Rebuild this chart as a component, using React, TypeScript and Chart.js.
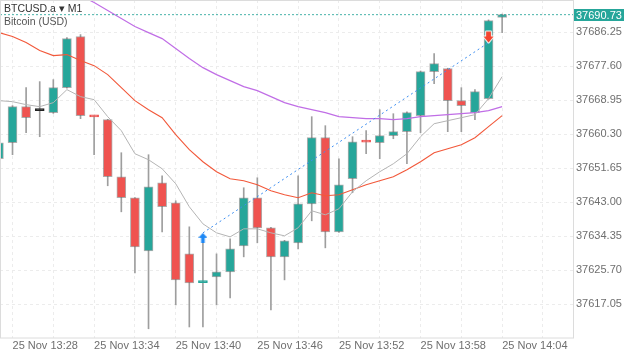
import React, { useEffect, useRef } from "react";
import { Chart, registerables } from "chart.js";

Chart.register(...registerables);

// ---- data ----
const times = [
  "13:27", "13:28", "13:29", "13:30", "13:31", "13:32", "13:33", "13:34", "13:35", "13:36",
  "13:37", "13:38", "13:39", "13:40", "13:41", "13:42", "13:43", "13:44", "13:45", "13:46",
  "13:47", "13:48", "13:49", "13:50", "13:51", "13:52", "13:53", "13:54", "13:55", "13:56",
  "13:57", "13:58", "13:59", "14:00", "14:01", "14:02", "14:03", "14:04",
];
const opens = [
  37654.07, 37658.14, 37667.32, 37666.3, 37665.79, 37672.16, 37685.15, 37664.85, 37664.0, 37649.48,
  37644.13, 37630.63, 37647.95, 37642.86, 37629.86, 37622.55, 37624.0, 37625.28, 37631.9, 37644.13,
  37636.49, 37629.1, 37632.67, 37642.6, 37659.42, 37635.47, 37648.97, 37658.5, 37658.14, 37659.93,
  37660.95, 37665.02, 37676.23, 37677.0, 37668.85, 37665.79, 37669.36, 37690.0,
];
const highs = [
  37659.0, 37667.6, 37672.16, 37673.69, 37674.2, 37684.9, 37685.66, 37665.0, 37664.1, 37655.6,
  37644.2, 37655.09, 37649.74, 37643.37, 37636.74, 37632.67, 37629.86, 37633.68, 37646.68, 37649.23,
  37636.6, 37633.3, 37649.74, 37664.77, 37662.48, 37654.07, 37659.67, 37661.2, 37666.55, 37665.53,
  37666.0, 37676.4, 37680.82, 37677.1, 37672.16, 37671.65, 37689.4, 37690.9,
];
const lows = [
  37652.5, 37655.09, 37660.69, 37659.67, 37665.6, 37672.0, 37664.26, 37655.09, 37647.19, 37640.56,
  37625.02, 37610.8, 37635.47, 37616.87, 37611.26, 37611.26, 37616.87, 37618.65, 37629.1, 37632.67,
  37615.59, 37623.24, 37631.14, 37638.27, 37631.39, 37635.3, 37645.41, 37655.34, 37654.07, 37659.16,
  37652.79, 37660.69, 37673.18, 37660.95, 37660.95, 37664.0, 37669.2, 37686.17,
];
const closes = [
  37658.14, 37667.32, 37664.51, 37666.3, 37672.16, 37684.64, 37665.02, 37664.7, 37649.48, 37644.13,
  37631.65, 37646.93, 37641.84, 37623.24, 37622.47, 37622.75, 37625.28, 37631.14, 37644.13, 37636.49,
  37629.1, 37633.17, 37642.6, 37659.42, 37635.47, 37647.44, 37658.4, 37658.3, 37659.93, 37660.95,
  37665.79, 37676.23, 37678.27, 37668.85, 37667.57, 37671.14, 37689.23, 37690.73,
];
// moving averages
const maFast = [
  37668.85, 37668.59, 37667.83, 37667.32, 37668.34, 37671.65, 37669.87, 37669.1, 37664.77, 37661.2,
  37655.34, 37653.81, 37651.52, 37647.7, 37641.84, 37637.5, 37635.21, 37634.19, 37636.23, 37636.23,
  37635.21, 37634.45, 37636.49, 37640.82, 37639.8, 37641.33, 37645.66, 37648.46, 37650.75, 37652.79,
  37655.34, 37659.67, 37662.98, 37663.75, 37664.51, 37665.28, 37669.36, 37674.96,
];
const maMid = [
  37686.17, 37685.15, 37683.62, 37681.59, 37680.31, 37680.57, 37679.04, 37677.76, 37675.47, 37672.16,
  37668.85, 37666.55, 37664.51, 37660.18, 37656.36, 37653.3, 37650.76, 37648.97, 37648.46, 37647.44,
  37645.91, 37644.89, 37644.13, 37645.4, 37644.64, 37644.89, 37646.17, 37647.44, 37648.46, 37649.48,
  37651.26, 37653.3, 37655.6, 37656.62, 37657.64, 37659.42, 37662.22, 37665.02,
];
const maSlow = [
  37706.3, 37704.5, 37702.7, 37700.9, 37699.2, 37697.4, 37695.6, 37693.82, 37691.78, 37689.74,
  37687.7, 37686.17, 37684.64, 37682.1, 37679.55, 37677.25, 37675.47, 37673.94, 37672.41, 37671.4,
  37669.87, 37668.34, 37667.32, 37666.55, 37665.79, 37664.77, 37664.51, 37664.26, 37664.26, 37664.0,
  37664.26, 37664.77, 37665.02, 37665.28, 37665.53, 37665.79, 37666.3, 37667.32,
];
const yTicks = [37617.05, 37625.7, 37634.35, 37643.0, 37651.65, 37660.3, 37668.95, 37677.6, 37686.25];
const xTickPositions = [1, 4, 7, 10, 13, 16, 19, 22, 25, 28, 31, 34, 37, 40];
const xTickLabels = [
  "25 Nov 13:28", "", "25 Nov 13:34", "", "25 Nov 13:40", "", "25 Nov 13:46", "",
  "25 Nov 13:52", "", "25 Nov 13:58", "", "25 Nov 14:04", "",
];
const lastPrice = 37690.73;
const trendIndex = [15, 36];
const trendPrice = [37635.2, 37683.6];
const signalIndex = [15, 36];
const signalPrice = [37633.94, 37685.03];

// ---- styling ----
const UP = "#26a69a";
const DOWN = "#ef5350";
const X_MIN = 0.08;
const X_MAX = 42.21;
const Y_MIN = 37608.45;
const Y_MAX = 37694.46;

function makeArrow(color: string, up: boolean, outline: boolean): HTMLCanvasElement {
  const o = outline ? 1.5 : 0;
  const W = up ? 9 : 10;
  const H = up ? 10 : 11;
  const c = document.createElement("canvas");
  c.width = Math.ceil(W + 2 * o);
  c.height = Math.ceil(H + 2 * o);
  const ctx = c.getContext("2d")!;
  ctx.translate(o, o);
  const s = W * 0.2;
  const pts = up
    ? [[W / 2, 0], [W, H * 0.5], [W / 2 + s, H * 0.5], [W / 2 + s, H], [W / 2 - s, H], [W / 2 - s, H * 0.5], [0, H * 0.5]]
    : [[W / 2 - s * 1.2, 0], [W / 2 + s * 1.2, 0], [W / 2 + s * 1.2, H * 0.45], [W, H * 0.45], [W / 2, H], [0, H * 0.45], [W / 2 - s * 1.2, H * 0.45]];
  ctx.beginPath();
  pts.forEach((p, i) => (i === 0 ? ctx.moveTo(p[0], p[1]) : ctx.lineTo(p[0], p[1])));
  ctx.closePath();
  if (outline) {
    ctx.strokeStyle = "rgba(255,255,255,0.95)";
    ctx.lineWidth = 2;
    ctx.lineJoin = "round";
    ctx.stroke();
  }
  ctx.fillStyle = color;
  ctx.fill();
  return c;
}

const framePlugin = {
  id: "frame",
  afterDraw(chart: any) {
    const { ctx, chartArea } = chart;
    ctx.save();
    ctx.strokeStyle = "#dcdcdc";
    ctx.lineWidth = 1;
    ctx.strokeRect(chartArea.left + 0.5, chartArea.top + 0.5, chartArea.right - chartArea.left, chartArea.bottom - chartArea.top - 0.5);
    // price tag
    const y = chart.scales.y.getPixelForValue(lastPrice);
    ctx.fillStyle = UP;
    ctx.fillRect(chartArea.right + 1, Math.round(y) - 6, chart.width - chartArea.right - 2, 12);
    ctx.fillStyle = "#ffffff";
    ctx.font = "11px 'Liberation Sans', Arial, sans-serif";
    ctx.textBaseline = "middle";
    ctx.textAlign = "left";
    ctx.fillText(lastPrice.toFixed(2), chartArea.right + 3, Math.round(y) + 0.5);
    ctx.restore();
  },
};

const zeroPad = (scale: any) => {
  scale.paddingTop = 0;
  scale.paddingBottom = 0;
  scale.paddingLeft = 0;
  scale.paddingRight = 0;
};

export default function App() {
  const ref = useRef<HTMLCanvasElement | null>(null);

  useEffect(() => {
    document.body.style.margin = "0";
    Chart.defaults.font.family = "'Liberation Sans', Arial, sans-serif";
    const canvas = ref.current;
    if (!canvas) return;

    const colorOf = (i: number) =>
      closes[i] > opens[i] ? UP : closes[i] < opens[i] ? DOWN : "#222222";
    const bodyColors = times.map((_, i) => colorOf(i));
    const borderColors = times.map((_, i) =>
      Math.abs(closes[i] - opens[i]) < 0.6 ? colorOf(i) : "rgba(105,105,105,0.55)"
    );

    const blueArrow = makeArrow("#1e88f5", true, false);
    const redArrow = makeArrow("#f4442e", false, true);

    const chart = new Chart(canvas, {
      type: "line",
      data: {
        datasets: [
          {
            type: "bar",
            label: "wicks",
            data: times.map((_, i) => ({ x: i, y: [lows[i], highs[i]] })) as any,
            backgroundColor: "#9e9e9e",
            borderWidth: 0,
            barThickness: 1,
            grouped: false,
            order: 6,
          } as any,
          {
            type: "bar",
            label: "bodies",
            data: times.map((_, i) => ({ x: i, y: [opens[i], closes[i]] })) as any,
            backgroundColor: bodyColors,
            borderColor: borderColors,
            borderWidth: 1,
            borderSkipped: false,
            barThickness: 9,
            minBarLength: 2,
            grouped: false,
            order: 5,
          } as any,
          {
            label: "ma fast",
            data: maFast.map((v, i) => ({ x: i, y: v })),
            borderColor: "#b4b4b4",
            borderWidth: 1,
            pointRadius: 0,
            tension: 0,
            order: 4,
          },
          {
            label: "ma mid",
            data: maMid.map((v, i) => ({ x: i, y: v })),
            borderColor: "#f2583a",
            borderWidth: 1.1,
            pointRadius: 0,
            tension: 0,
            order: 4,
          },
          {
            label: "ma slow",
            data: maSlow.map((v, i) => ({ x: i, y: v })),
            borderColor: "#c06ee6",
            borderWidth: 1.2,
            pointRadius: 0,
            tension: 0,
            order: 4,
          },
          {
            label: "trend",
            data: trendIndex.map((x, i) => ({ x, y: trendPrice[i] })),
            borderColor: "#3d8ef0",
            borderWidth: 1,
            borderDash: [2, 3],
            pointRadius: 0,
            order: 2,
          },
          {
            label: "last",
            data: [
              { x: X_MIN, y: lastPrice },
              { x: X_MAX, y: lastPrice },
            ],
            borderColor: "rgba(38,166,154,0.85)",
            borderWidth: 1,
            borderDash: [2, 2],
            pointRadius: 0,
            order: 1,
          },
          {
            label: "signals",
            data: signalIndex.map((x, i) => ({ x, y: signalPrice[i] })),
            showLine: false,
            pointStyle: [blueArrow, redArrow] as any,
            pointRadius: 5,
            order: 0,
          },
        ],
      },
      options: {
        animation: false,
        responsive: true,
        maintainAspectRatio: false,
        events: [],
        layout: { padding: 0, autoPadding: false },
        plugins: { legend: { display: false }, tooltip: { enabled: false } },
        scales: {
          x: {
            type: "linear",
            min: X_MIN,
            max: X_MAX,
            offset: false,
            afterBuildTicks: (scale: any) => {
              scale.ticks = xTickPositions.map((v) => ({ value: v }));
            },
            afterFit: (scale: any) => {
              scale.height = 14;
              zeroPad(scale);
            },
            grid: { color: "#ececec", drawTicks: false, offset: false },
            border: { display: false, dash: [3, 3] },
            ticks: {
              autoSkip: false,
              maxRotation: 0,
              minRotation: 0,
              align: "start",
              padding: 1,
              color: "#6f6f6f",
              font: { size: 11 },
              callback: (_v: any, index: number) => xTickLabels[index] ?? "",
            },
          },
          y: {
            type: "linear",
            position: "right",
            min: Y_MIN,
            max: Y_MAX,
            afterBuildTicks: (scale: any) => {
              scale.ticks = yTicks.map((v) => ({ value: v }));
            },
            afterFit: (scale: any) => {
              scale.width = 52;
              zeroPad(scale);
            },
            grid: { color: "#ececec", drawTicks: false },
            border: { display: false, dash: [3, 3] },
            ticks: {
              padding: 3,
              color: "#6f6f6f",
              font: { size: 11 },
              callback: (v: any) => Number(v).toFixed(2),
            },
          },
        },
      } as any,
      plugins: [framePlugin],
    });

    return () => chart.destroy();
  }, []);

  return (
    <div style={{ position: "relative", width: 625, height: 352, background: "#ffffff" }}>
      <canvas ref={ref} />
      <div
        style={{
          position: "absolute",
          left: 4,
          top: 2,
          fontFamily: "'Liberation Sans', Arial, sans-serif",
          fontSize: 10.5,
          lineHeight: "13px",
          pointerEvents: "none",
        }}
      >
        <div style={{ color: "#333333" }}>BTCUSD.a ▾ M1</div>
        <div style={{ color: "#555555" }}>Bitcoin (USD)</div>
      </div>
    </div>
  );
}
